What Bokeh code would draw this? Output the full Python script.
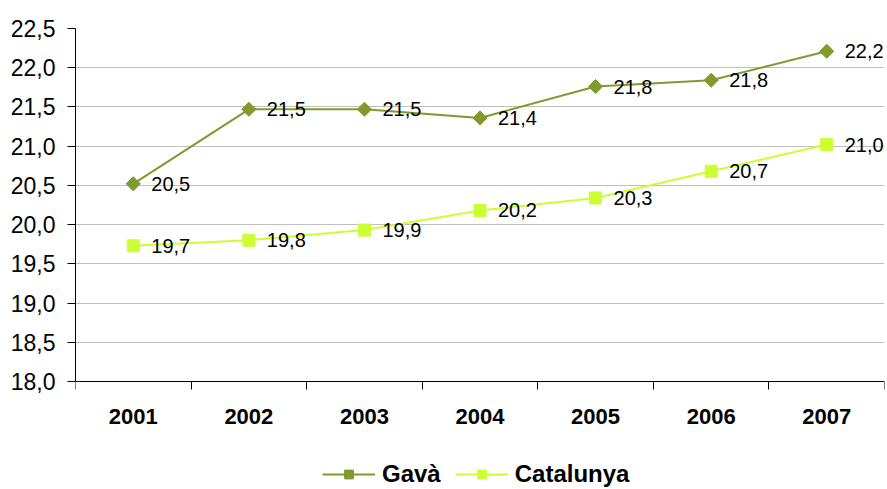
import math
from bokeh.plotting import figure
from bokeh.models import (FixedTicker, CustomJSTickFormatter, ColumnDataSource,
                          Legend, LegendItem, Range1d, LabelSet)
from bokeh.core.properties import value
from bokeh.embed import file_html
from bokeh.resources import INLINE

years = ["2001", "2002", "2003", "2004", "2005", "2006", "2007"]
gava = [20.52, 21.47, 21.47, 21.36, 21.76, 21.84, 22.21]
catalunya = [19.73, 19.80, 19.93, 20.18, 20.34, 20.68, 21.02]
y_ticks = [18.0, 18.5, 19.0, 19.5, 20.0, 20.5, 21.0, 21.5, 22.0, 22.5]

FONT = "Liberation Sans"
C_GAVA = "#7F9A2E"
C_CAT = "#CCFF33"

# layout: plot area 353 px tall for the value range, 108 px below it for labels + legend
PLOT_H = 353
BELOW_H = 108
y_lo, y_hi = y_ticks[0], y_ticks[-1]
y_start = y_lo - (y_hi - y_lo) * BELOW_H / PLOT_H

xs = [i + 0.5 for i in range(len(years))]

def fmt(v):
    return f"{v:.1f}".replace(".", ",")

src_g = ColumnDataSource(dict(x=xs, y=gava, lab=[fmt(v) for v in gava]))
src_c = ColumnDataSource(dict(x=xs, y=catalunya, lab=[fmt(v) for v in catalunya]))

p = figure(frame_width=809, frame_height=PLOT_H + BELOW_H, output_backend="svg",
           toolbar_location=None,
           x_range=Range1d(0, len(years)), y_range=Range1d(y_start, y_hi),
           min_border_left=75, min_border_right=3, min_border_top=28, min_border_bottom=0)
p.outline_line_color = None
p.background_fill_color = "white"
p.border_fill_color = "white"

# grid
p.xgrid.grid_line_color = None
p.ygrid.grid_line_color = "#BFBFBF"
p.ygrid.grid_line_width = 1

# y axis
p.yaxis.ticker = FixedTicker(ticks=y_ticks)
p.yaxis.bounds = (y_lo, y_hi)
p.yaxis.formatter = CustomJSTickFormatter(code="return tick.toFixed(1).replace('.', ',');")
p.yaxis.axis_line_color = "black"
p.yaxis.major_tick_line_color = "black"
p.yaxis.major_tick_out = 8
p.yaxis.major_tick_in = 0
p.yaxis.minor_tick_line_color = None
p.yaxis.major_label_text_font = FONT
p.yaxis.major_label_text_font_size = "23px"
p.yaxis.major_label_text_color = "black"
p.yaxis.major_label_standoff = 12

# x axis: drawn at y = 18; labels at centres, ticks at boundaries
p.xaxis.fixed_location = y_lo
p.xaxis.ticker = FixedTicker(ticks=xs, minor_ticks=list(range(len(years) + 1)))
p.xaxis.major_label_overrides = {x: y for x, y in zip(xs, years)}
p.xaxis.axis_line_color = "black"
p.xaxis.major_tick_line_color = None
p.xaxis.major_tick_out = 8
p.xaxis.major_tick_in = 0
p.xaxis.minor_tick_line_color = "black"
p.xaxis.minor_tick_out = 8
p.xaxis.minor_tick_in = 0
p.xaxis.major_label_text_font = FONT
p.xaxis.major_label_text_font_style = "bold"
p.xaxis.major_label_text_font_size = "22px"
p.xaxis.major_label_text_color = "black"
p.xaxis.major_label_standoff = 19

lg = p.line("x", "y", source=src_g, line_color=C_GAVA, line_width=2)
sg = p.scatter("x", "y", source=src_g, marker="square", size=10, angle=math.pi / 4,
               fill_color=C_GAVA, line_color=C_GAVA)
lc = p.line("x", "y", source=src_c, line_color=C_CAT, line_width=2)
sc = p.scatter("x", "y", source=src_c, marker="square", size=12,
               fill_color=C_CAT, line_color=C_CAT)

for s in (src_g, src_c):
    p.add_layout(LabelSet(x="x", y="y", text="lab", source=s, x_offset=18, y_offset=0,
                          text_baseline="middle", text_align="left",
                          text_font=value(FONT), text_font_size=value("20px"),
                          text_color="black"))

legend = Legend(items=[LegendItem(label="Gavà", renderers=[lg, sg]),
                       LegendItem(label="Catalunya", renderers=[lc, sc])],
                orientation="horizontal", location=(247, 1),
                label_text_font=FONT, label_text_font_style="bold",
                label_text_font_size="24px", label_text_color="black",
                glyph_width=53, glyph_height=22, spacing=14, label_standoff=7,
                border_line_color=None, background_fill_alpha=0,
                padding=0, margin=0)
p.add_layout(legend, "center")

open("out.html", "w").write(file_html(p, INLINE))
